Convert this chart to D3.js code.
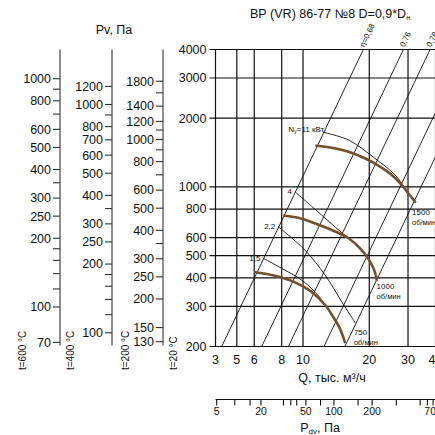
<!DOCTYPE html>
<html>
<head>
<meta charset="utf-8">
<script src="https://cdn.jsdelivr.net/npm/d3@7/dist/d3.min.js"></script>
<style>
html,body{margin:0;padding:0;background:#fff;}
svg{display:block;}
text{font-family:"Liberation Sans",Arial,Helvetica,sans-serif;fill:#111;}
</style>
</head>
<body>
<svg id="chart" width="435" height="435"></svg>
<script>
// ---------------- data ----------------
const qTicks = [3, 5, 6, 8, 10, 20, 30, 40];
const qGrid = [5, 6, 8, 10, 20, 30, 40];
const pTicks = [4000, 3000, 2000, 1000, 800, 600, 500, 400, 300, 200];

const pdvTicks = [5, 10, 15, 20, 30, 35, 40, 50, 70, 100, 150, 200, 300, 500, 600, 700];
const pdvLabels = [5, 20, 50, 100, 200, 700];
const pdvAsQ = [3.09, 6.44, 10.3, 13.82, 20.6, 39.0];

const temperatures = [600, 400, 200, 20];
const t600Major = [1000, 800, 600, 500, 400, 300, 250, 200, 100, 70];
const t600Minor = [900, 700, 350, 180, 160, 140, 120];
const t400Major = [1200, 1000, 800, 700, 600, 500, 400, 300, 250, 200, 100];
const t400Minor = [900, 350, 180, 160, 140, 120];
const t200Major = [1800, 1400, 1200, 1000, 800, 600, 500, 400, 300, 250, 200, 150, 130];
const t200Minor = [1600, 1100, 900, 700, 350];

const speedLabels = ["1500", "1000", "750"];
const curve1500 = [[11.5,1516],[13.5,1485],[16.1,1427],[19.1,1335],[22.0,1239],[25.3,1128],[28.1,1020],[30.1,938],[32.3,862]];
const curve1000 = [[8.22,748],[9.51,733],[11.3,693],[13.5,648],[16.1,596],[18.5,529],[20.2,470],[21.2,425],[21.6,391]];
const curve750  = [[6.09,423],[7.46,408],[9.19,382],[10.9,348],[12.6,304],[13.7,270],[14.7,240],[15.5,209]];

const powerLabels = ["11", "4", "2,2", "1,5"];
const power11 = [[12.36,1735],[16.1,1605],[21.2,1335],[26.2,1128],[29.1,985]];
const power4  = [[9.19,953],[12.15,753],[15.0,630],[17.0,570],[19.1,505]];
const power22 = [[7.72,669],[10.2,529],[12.6,411],[15.0,314],[17.3,253]];
const power15 = [[6.6,487],[8.0,440],[9.86,391],[11.3,348],[12.0,326]];

const etaLabels = ["η=0,68", "0,76", "0,78", "0,76", "0,68"];
const etaBottomQ = [3.48, 6.49, 8.58, 12.45, 15.5];   // at P = 200
const etaTopQ    = [18.8, 28.6, 37.8, 54.8, 68.3];    // at P = 4000

// ---------------- layout ----------------
const W = 435, H = 435;
const L = 215.5, R = 435.5, T = 49.5, B = 346.5;
const svg = d3.select("#chart");
svg.append("rect").attr("width", W).attr("height", H).attr("fill", "#fff");

const x = d3.scaleLog().domain([3, 5, 40]).range([L, 236.8, R]);
const y = d3.scaleLog().domain([200, 4000]).range([B, T]);
const INK = "#111";

svg.append("defs").append("clipPath").attr("id", "plot")
  .append("rect").attr("x", L).attr("y", T).attr("width", W - L).attr("height", B - T);

// grid
const g = svg.append("g");
g.selectAll(".vg").data(qGrid).join("line")
  .attr("x1", d => x(d)).attr("x2", d => x(d))
  .attr("y1", T).attr("y2", B)
  .attr("stroke", INK).attr("stroke-width", 1.2);
g.selectAll(".hg").data(pTicks).join("line")
  .attr("x1", L - 6).attr("x2", W)
  .attr("y1", d => y(d)).attr("y2", d => y(d))
  .attr("stroke", INK).attr("stroke-width", 1.2);
g.append("line").attr("x1", L).attr("x2", L).attr("y1", T).attr("y2", B)
  .attr("stroke", INK).attr("stroke-width", 1.2);

// main axis labels (t = 20 °C)
g.selectAll(".pl").data(pTicks).join("text")
  .attr("x", L - 9).attr("y", d => y(d)).attr("dy", "0.35em")
  .attr("text-anchor", "end").attr("font-size", 12.5).text(d => d);

// Q axis labels
g.selectAll(".ql").data(qTicks).join("text")
  .attr("x", d => x(d)).attr("y", B + 17)
  .attr("text-anchor", "middle").attr("font-size", 12.5).text(d => d);
svg.append("text").attr("x", 332).attr("y", 382).attr("text-anchor", "middle")
  .attr("font-size", 12.5).text("Q, тыс. м³/ч");

// auxiliary temperature axes
const auxX = [60, 112, 163];
const auxMajor = [t600Major, t400Major, t200Major];
const auxMinor = [t600Minor, t400Minor, t200Minor];
auxX.forEach((ax, i) => {
  const f = 293 / (273 + temperatures[i]);
  const ga = svg.append("g");
  ga.append("line").attr("x1", ax).attr("x2", ax).attr("y1", T).attr("y2", B - 1)
    .attr("stroke", "#333").attr("stroke-width", 1.1);
  ga.selectAll(".mj").data(auxMajor[i].concat(auxMinor[i])).join("line")
    .attr("x1", ax - 7).attr("x2", ax)
    .attr("y1", d => y(d / f)).attr("y2", d => y(d / f))
    .attr("stroke", "#333").attr("stroke-width", 1.1);
  ga.selectAll(".lb").data(auxMajor[i]).join("text")
    .attr("x", ax - 9).attr("y", d => y(d / f)).attr("dy", "0.35em")
    .attr("text-anchor", "end").attr("font-size", 12.5).text(d => d);
});
const tempLabelX = [22, 70, 125, 173];
temperatures.forEach((t, i) => {
  svg.append("text")
    .attr("transform", `translate(${tempLabelX[i]},370) rotate(-90)`)
    .attr("dominant-baseline", "central")
    .attr("font-size", 10).text(`t=${t} °C`);
});
svg.append("text").attr("x", 114).attr("y", 34).attr("text-anchor", "middle")
  .attr("font-size", 12.5).text("Pv, Па");

// title
const title = svg.append("text").attr("x", 330).attr("y", 18).attr("text-anchor", "middle").attr("font-size", 12.5);
title.append("tspan").text("ВР (VR) 86-77 №8 D=0,9*D");
title.append("tspan").attr("font-size", 7).attr("dy", 2).text("н");

// efficiency rays
const plot = svg.append("g").attr("clip-path", "url(#plot)");
const line = d3.line().x(d => x(d[0])).y(d => y(d[1]));
const rays = etaBottomQ.map((q, i) => [[q, 200], [etaTopQ[i], 4000]]);
plot.selectAll(".ray").data(rays).join("path")
  .attr("d", line).attr("fill", "none").attr("stroke", INK).attr("stroke-width", 0.9);
etaLabels.forEach((lab, i) => {
  const lx = x(etaTopQ[i]);
  if (lx > W) return; // label lies beyond the picture edge
  svg.append("text")
    .attr("transform", `translate(${lx + 1},${T - 2}) rotate(-64.5)`)
    .attr("font-size", 8).text(lab);
});

// power limit curves
const smooth = d3.line().x(d => x(d[0])).y(d => y(d[1])).curve(d3.curveCatmullRom.alpha(0.5));
const powers = [power11, power4, power22, power15];
plot.selectAll(".pw").data(powers).join("path")
  .attr("d", smooth).attr("fill", "none").attr("stroke", INK).attr("stroke-width", 0.9);
{
  const p = power11[0];
  const t = svg.append("text").attr("x", x(p[0]) + 1).attr("y", y(p[1]) - 0.5)
    .attr("text-anchor", "end").attr("font-size", 8);
  t.append("tspan").text("N");
  t.append("tspan").attr("font-size", 5.5).attr("dy", 1.5).text("у");
  t.append("tspan").attr("dy", -1.5).text(`=${powerLabels[0]} кВт`);
}
powers.slice(1).forEach((pts, i) => {
  svg.append("text").attr("x", x(pts[0][0]) - 3).attr("y", y(pts[0][1]) + 2.5)
    .attr("text-anchor", "end").attr("font-size", 8).text(powerLabels[i + 1]);
});

// fan curves
const curves = [curve1500, curve1000, curve750];
plot.selectAll(".fc").data(curves).join("path")
  .attr("d", smooth).attr("fill", "none").attr("stroke", "#74502f")
  .attr("stroke-width", 2.6).attr("stroke-linecap", "round");
const speedOffset = [[-3, 13], [0, 8.5], [9, -7]];
curves.forEach((c, i) => {
  const e = c[c.length - 1];
  const px = x(e[0]) + speedOffset[i][0], py = y(e[1]) + speedOffset[i][1];
  svg.append("text").attr("x", px).attr("y", py).attr("font-size", 8).text(speedLabels[i]);
  svg.append("text").attr("x", px).attr("y", py + 10).attr("font-size", 7.5).text("об/мин");
});

// dynamic pressure axis
const pdvToQ = d3.scaleLog().domain(pdvLabels).range(pdvAsQ);
const xp = v => x(pdvToQ(v));
const yPdv = 399.5;
const gp = svg.append("g");
gp.append("line").attr("x1", L).attr("x2", W).attr("y1", yPdv).attr("y2", yPdv)
  .attr("stroke", INK).attr("stroke-width", 1.1);
gp.selectAll(".pt").data(pdvTicks).join("line")
  .attr("x1", d => xp(d)).attr("x2", d => xp(d)).attr("y1", yPdv).attr("y2", yPdv + 6)
  .attr("stroke", INK).attr("stroke-width", 1.1);
gp.selectAll(".pl").data(pdvLabels).join("text")
  .attr("x", d => xp(d)).attr("y", 415).attr("text-anchor", "middle")
  .attr("font-size", 10.5).text(d => d);
const pt = svg.append("text").attr("x", 320).attr("y", 432).attr("text-anchor", "middle").attr("font-size", 12.5);
pt.append("tspan").text("P");
pt.append("tspan").attr("font-size", 8).attr("dy", 1.5).text("dv");
pt.append("tspan").attr("dy", -1.5).text(", Па");
</script>
</body>
</html>
